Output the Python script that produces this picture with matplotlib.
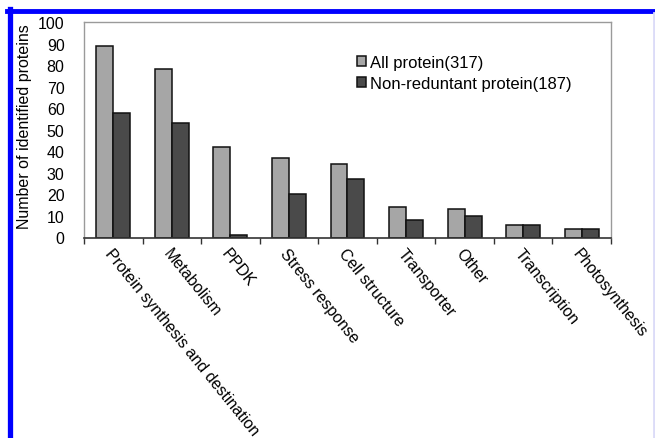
import matplotlib
matplotlib.use("Agg")
import matplotlib.pyplot as plt
import numpy as np
from matplotlib.lines import Line2D

plt.rcParams["font.family"] = ["Liberation Sans", "DejaVu Sans"]

categories = ["Protein synthesis and destination", "Metabolism", "PPDK",
              "Stress response", "Cell structure", "Transporter", "Other",
              "Transcription", "Photosynthesis"]
all_protein = [89, 78, 42, 37, 34, 14, 13, 6, 4]
non_redundant = [58, 53, 1, 20, 27, 8, 10, 6, 4]
series_labels = ["All protein(317)", "Non-reduntant protein(187)"]
yticks = list(range(0, 101, 10))

W, H = 655, 439
fig = plt.figure(figsize=(W / 100, H / 100), dpi=100)
ax = fig.add_axes([84 / W, 1 - 238.5 / H, (611 - 84) / W, (238.5 - 23) / H])

x = np.arange(len(categories))
bw = 0.29
ax.bar(x - bw / 2, all_protein, bw, color="#a6a6a6", edgecolor="#111111",
       linewidth=1.1, label=series_labels[0])
ax.bar(x + bw / 2, non_redundant, bw, color="#4a4a4a", edgecolor="#111111",
       linewidth=1.1, label=series_labels[1])

ax.set_xlim(-0.5, len(categories) - 0.5)
ax.set_ylim(0, 100)
ax.set_yticks(yticks)
ax.tick_params(axis="y", length=0, pad=14, labelsize=11.5)
ax.set_ylabel("Number of identified proteins", fontsize=11.5)
ax.yaxis.set_label_coords(-0.099, 0.52)

# ticks between categories on the x axis, labels at the centres
ax.set_xticks(np.arange(len(categories) + 1) - 0.5)
ax.set_xticklabels([])
ax.tick_params(axis="x", direction="out", length=4, width=1, color="#333333")
for i, name in enumerate(categories):
    ax.annotate(name, xy=(i, 0), xycoords=("data", "axes fraction"),
                xytext=(0, -6), textcoords="offset points",
                rotation=-51, rotation_mode="anchor", ha="left", va="top",
                fontsize=11.5, annotation_clip=False)

for side in ["top", "right", "left"]:
    ax.spines[side].set_color("#9a9a9a")
    ax.spines[side].set_linewidth(1.0)
ax.spines["bottom"].set_color("#333333")
ax.spines["bottom"].set_linewidth(1.2)

leg = ax.legend(loc="upper left", bbox_to_anchor=(0.502, 0.885), frameon=False,
                fontsize=12, handlelength=0.55, handleheight=0.55,
                handletextpad=0.25, labelspacing=0.35, borderpad=0)

# blue border around the figure
fig.add_artist(Line2D([7 / W, 1], [1 - 12 / H, 1 - 12 / H],
                      transform=fig.transFigure, color="#0000ff", linewidth=3.5))
fig.add_artist(Line2D([9.5 / W, 9.5 / W], [0, 1 - 10 / H],
                      transform=fig.transFigure, color="#0000ff", linewidth=3.8))
fig.add_artist(Line2D([653.5 / W, 653.5 / W], [0, 1 - 14 / H],
                      transform=fig.transFigure, color="#dcdcf8", linewidth=2))

fig.savefig("out.png", dpi=100)
